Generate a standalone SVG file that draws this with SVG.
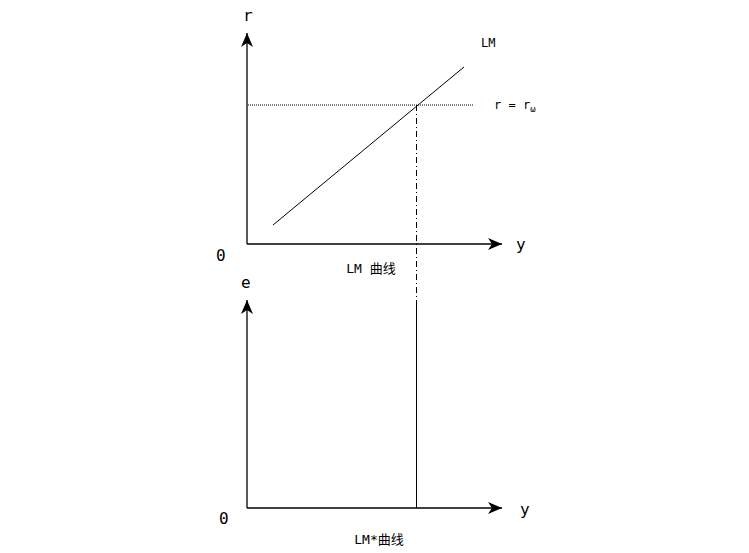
<svg xmlns="http://www.w3.org/2000/svg" width="749" height="553" viewBox="0 0 749 553">
<defs>
<marker id="arr" markerWidth="16" markerHeight="12" refX="14" refY="6" orient="auto" markerUnits="userSpaceOnUse">
<path d="M0,0 L14,6 L0,12 L4,6 Z" fill="#000"/>
</marker>
<style>
.ax{stroke:#000;stroke-width:1.3;fill:none}
.t{font-family:"DejaVu Sans Mono","Noto Sans CJK SC",monospace;fill:#000}
.big{font-size:16px}
.sm{font-size:12px}
.md{font-size:13px}
</style>
</defs>
<rect width="749" height="553" fill="#fff"/>
<g id="connectors">
<line class="ax" x1="247" y1="244" x2="247" y2="33" marker-end="url(#arr)"/>
<line class="ax" x1="247" y1="244" x2="502" y2="244" marker-end="url(#arr)"/>
<line class="ax" x1="247" y1="508" x2="247" y2="300" marker-end="url(#arr)"/>
<line class="ax" x1="247" y1="508" x2="502" y2="508" marker-end="url(#arr)"/>
<line x1="273" y1="225" x2="464" y2="67" stroke="#000" stroke-width="1"/>
<line x1="248" y1="105" x2="474" y2="105" stroke="#000" stroke-width="1" stroke-dasharray="1,1"/>
<line x1="416.5" y1="105" x2="416.5" y2="302" stroke="#000" stroke-width="1" stroke-dasharray="6,3,1,3"/>
<line x1="416.5" y1="302" x2="416.5" y2="508" stroke="#000" stroke-width="1"/>
</g>
<g id="labels">
<text class="t big" x="243" y="21">r</text>
<text class="t sm" x="481" y="47">LM</text>
<text class="t sm" x="494" y="109">r = r<tspan font-size="9" dy="3">ω</tspan></text>
<text class="t big" x="516" y="250">y</text>
<text class="t big" x="216" y="261">0</text>
<text class="t md" x="371" y="273" text-anchor="middle">LM 曲线</text>
<text class="t big" x="241" y="288">e</text>
<text class="t big" x="520" y="515">y</text>
<text class="t big" x="219" y="524">0</text>
<text class="t md" x="379" y="544" text-anchor="middle">LM*曲线</text>
</g>
</svg>
